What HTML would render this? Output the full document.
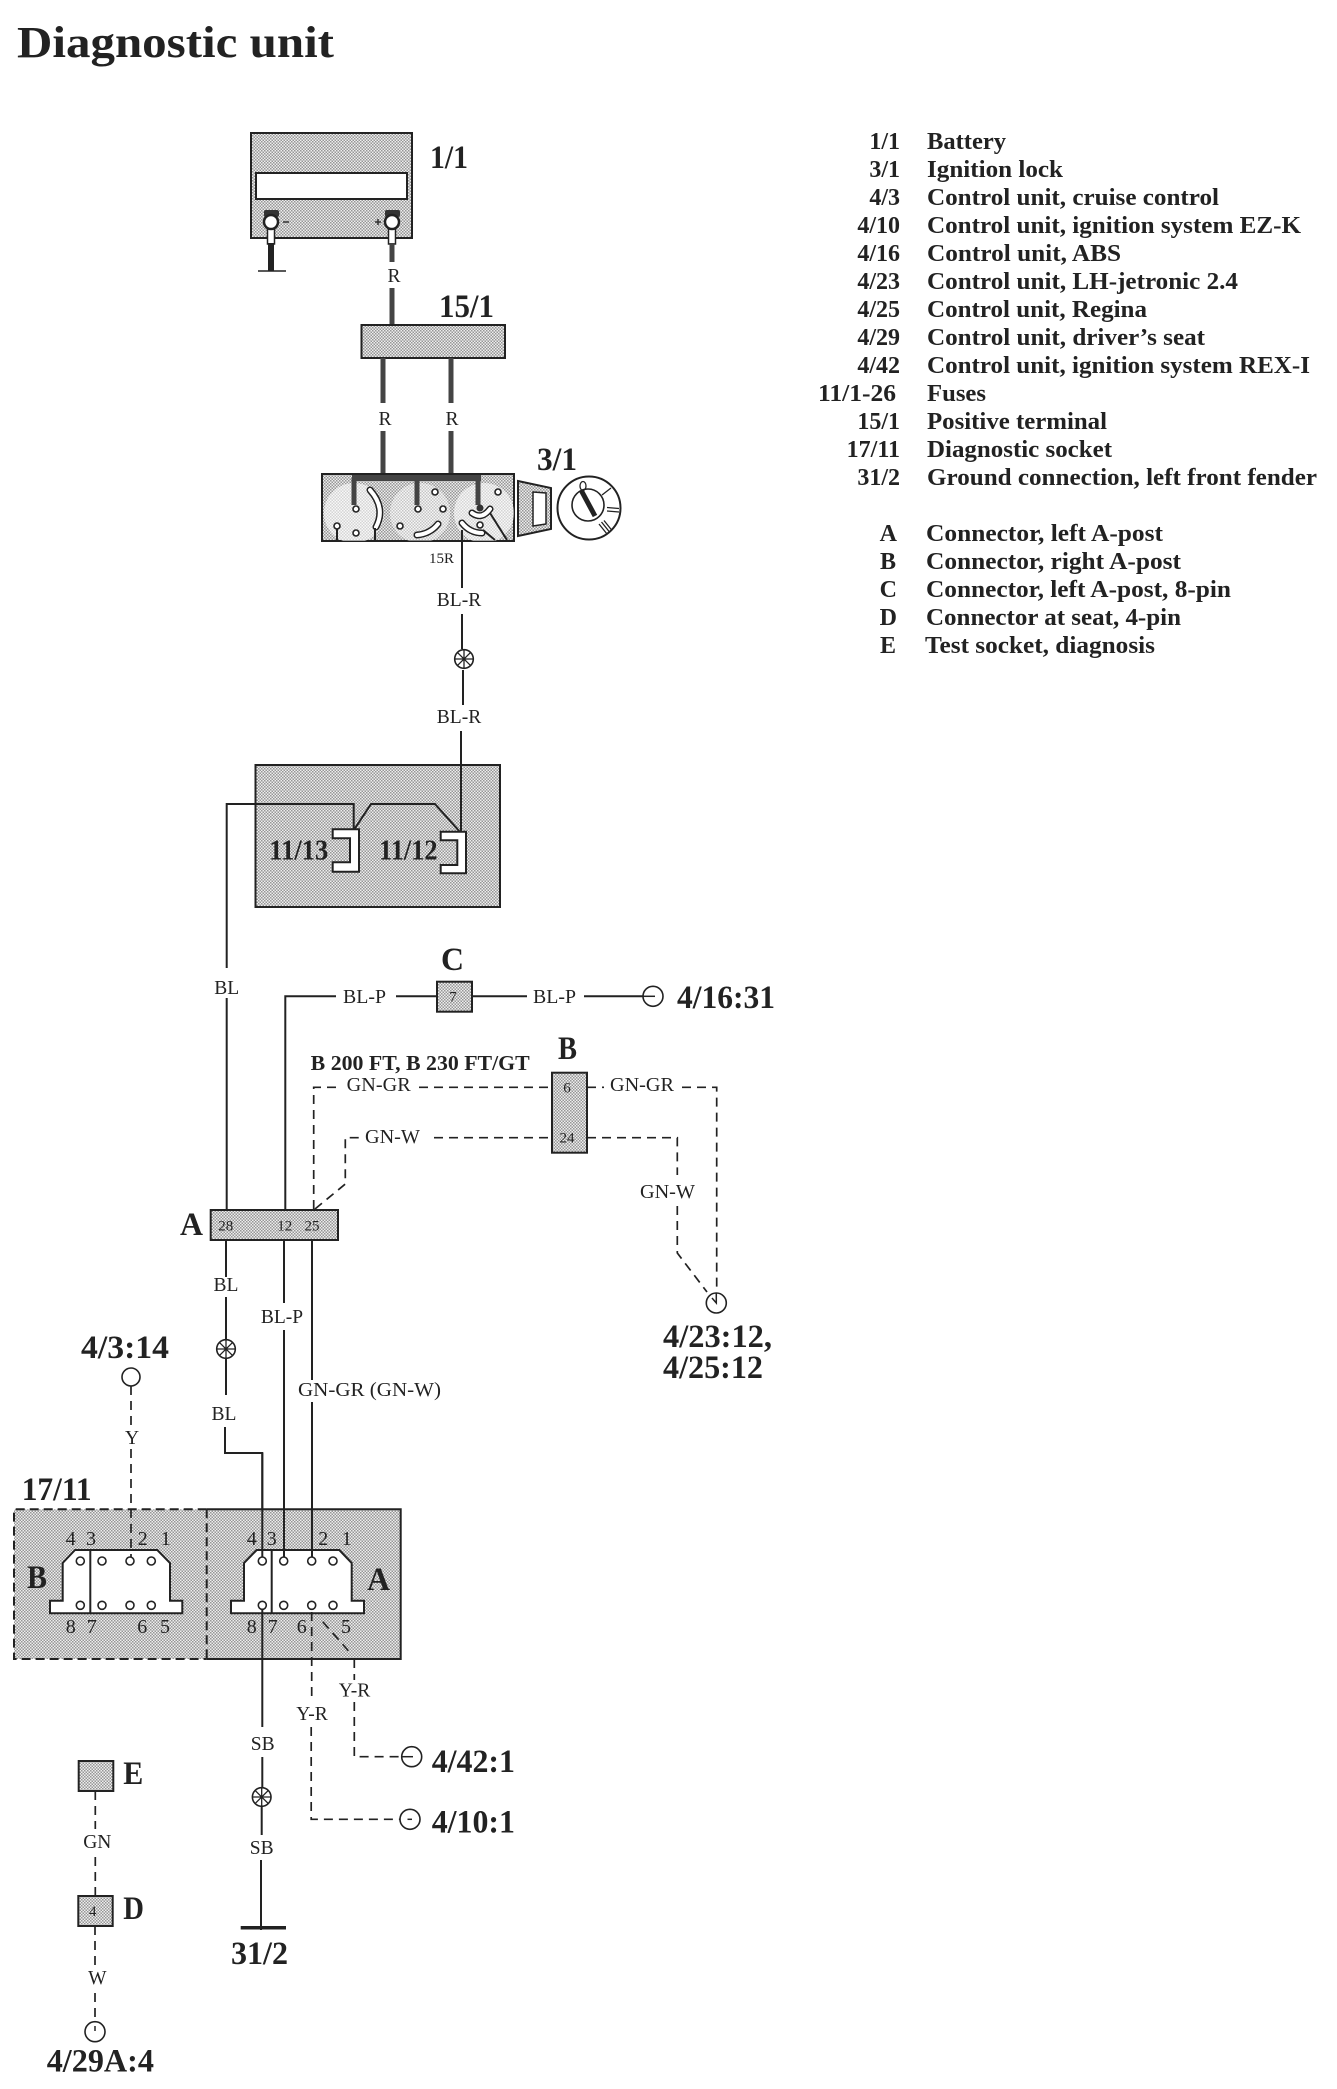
<!DOCTYPE html>
<html><head><meta charset="utf-8"><style>
html,body{margin:0;padding:0;background:#fff}
svg{display:block}
text{font-family:"Liberation Serif",serif;fill:#222}
.b{font-weight:bold;font-size:33px}
.t{font-size:19.5px}
.l{font-weight:bold;font-size:24px}
.n{font-size:20px}
.s{font-size:15px}
.w{fill:none;stroke:#222;stroke-width:2}
.d{fill:none;stroke:#222;stroke-width:1.7;stroke-dasharray:9 6}
.box{fill:url(#st);stroke:#222;stroke-width:2}
.th{fill:none;stroke:#444;stroke-width:5}
.p{fill:#fff;stroke:#222;stroke-width:1.6}
</style></head><body>
<svg width="1337" height="2089" viewBox="0 0 1337 2089" xmlns="http://www.w3.org/2000/svg">
<defs>
<pattern id="st" width="3" height="3" patternUnits="userSpaceOnUse"><rect width="3" height="3" fill="#eeeeee"/><rect x="0" y="0" width="1.5" height="1.5" fill="#969696"/><rect x="1.5" y="1.5" width="1.5" height="1.5" fill="#969696"/></pattern>
<clipPath id="lk"><rect x="322" y="474" width="192" height="67"/></clipPath>
<g id="fuse"><circle r="9.3" fill="#fff" stroke="#222" stroke-width="1.6"/><path d="M0-9.3V9.3M-9.3 0H9.3M-6.6-6.6L6.6 6.6M-6.6 6.6L6.6-6.6" stroke="#222" stroke-width="1.3"/></g>
</defs>
<rect width="1337" height="2089" fill="#fff"/>

<text x="17" y="57" font-weight="bold" font-size="44" textLength="317" lengthAdjust="spacingAndGlyphs">Diagnostic unit</text>

<!-- Legend -->
<g text-anchor="end">
<text class="l" x="900" y="149">1/1</text>
<text class="l" x="900" y="177">3/1</text>
<text class="l" x="900" y="205">4/3</text>
<text class="l" x="900" y="233">4/10</text>
<text class="l" x="900" y="261">4/16</text>
<text class="l" x="900" y="289">4/23</text>
<text class="l" x="900" y="317">4/25</text>
<text class="l" x="900" y="345">4/29</text>
<text class="l" x="900" y="373">4/42</text>
<text class="l" x="896" y="401" textLength="78" lengthAdjust="spacingAndGlyphs">11/1-26</text>
<text class="l" x="900" y="429">15/1</text>
<text class="l" x="900" y="457">17/11</text>
<text class="l" x="900" y="485">31/2</text>
<text class="l" x="897" y="541">A</text>
<text class="l" x="896" y="569">B</text>
<text class="l" x="897" y="597">C</text>
<text class="l" x="897" y="625">D</text>
<text class="l" x="896" y="653">E</text>
</g>
<text class="l" x="927" y="149" textLength="79" lengthAdjust="spacingAndGlyphs">Battery</text>
<text class="l" x="927" y="177" textLength="136" lengthAdjust="spacingAndGlyphs">Ignition lock</text>
<text class="l" x="927" y="205" textLength="292" lengthAdjust="spacingAndGlyphs">Control unit, cruise control</text>
<text class="l" x="927" y="233" textLength="374" lengthAdjust="spacingAndGlyphs">Control unit, ignition system EZ-K</text>
<text class="l" x="927" y="261" textLength="194" lengthAdjust="spacingAndGlyphs">Control unit, ABS</text>
<text class="l" x="927" y="289" textLength="311" lengthAdjust="spacingAndGlyphs">Control unit, LH-jetronic 2.4</text>
<text class="l" x="927" y="317" textLength="220" lengthAdjust="spacingAndGlyphs">Control unit, Regina</text>
<text class="l" x="927" y="345" textLength="278" lengthAdjust="spacingAndGlyphs">Control unit, driver’s seat</text>
<text class="l" x="927" y="373" textLength="383" lengthAdjust="spacingAndGlyphs">Control unit, ignition system REX-I</text>
<text class="l" x="927" y="401" textLength="59" lengthAdjust="spacingAndGlyphs">Fuses</text>
<text class="l" x="927" y="429" textLength="180" lengthAdjust="spacingAndGlyphs">Positive terminal</text>
<text class="l" x="927" y="457" textLength="185" lengthAdjust="spacingAndGlyphs">Diagnostic socket</text>
<text class="l" x="927" y="485" textLength="390" lengthAdjust="spacingAndGlyphs">Ground connection, left front fender</text>
<text class="l" x="926" y="541" textLength="237" lengthAdjust="spacingAndGlyphs">Connector, left A-post</text>
<text class="l" x="926" y="569" textLength="255" lengthAdjust="spacingAndGlyphs">Connector, right A-post</text>
<text class="l" x="926" y="597" textLength="305" lengthAdjust="spacingAndGlyphs">Connector, left A-post, 8-pin</text>
<text class="l" x="926" y="625" textLength="255" lengthAdjust="spacingAndGlyphs">Connector at seat, 4-pin</text>
<text class="l" x="925" y="653" textLength="230" lengthAdjust="spacingAndGlyphs">Test socket, diagnosis</text>

<!-- Battery -->
<rect class="box" x="251" y="133" width="161" height="105"/>
<rect x="256" y="173" width="151" height="26" fill="#fff" stroke="#222" stroke-width="2"/>
<rect x="264" y="210" width="15" height="7" rx="2" fill="#333"/>
<rect x="385" y="210" width="15" height="7" rx="2" fill="#333"/>
<rect x="267.500" y="228" width="7" height="16" fill="#fff" stroke="#222" stroke-width="1.500"/>
<rect x="388.500" y="228" width="7" height="16" fill="#fff" stroke="#222" stroke-width="1.500"/>
<circle cx="271" cy="222" r="7" fill="#fff" stroke="#222" stroke-width="2.500"/>
<circle cx="392" cy="222" r="7" fill="#fff" stroke="#222" stroke-width="2.500"/>
<path d="M283 222h6M375 222h6M378 219v6" stroke="#333" stroke-width="1.500"/>
<path d="M271 243V271" stroke="#222" stroke-width="6"/>
<path d="M258 271H286" stroke="#222" stroke-width="1.500"/>
<path class="th" d="M392 243V262M392 288V325"/>
<text class="t" x="394" y="282" text-anchor="middle">R</text>
<text class="b" x="430" y="168" textLength="38" lengthAdjust="spacingAndGlyphs">1/1</text>

<!-- 15/1 -->
<rect class="box" x="361.500" y="325" width="143.500" height="33"/>
<text class="b" x="439" y="317" textLength="55" lengthAdjust="spacingAndGlyphs">15/1</text>
<path class="th" d="M383 358V403M383 431V476M451 358V403M451 431V476"/>
<text class="t" x="385" y="425" text-anchor="middle">R</text>
<text class="t" x="452" y="425" text-anchor="middle">R</text>

<!-- 3/1 Ignition lock -->
<rect class="box" x="322" y="474" width="192" height="67"/>
<g clip-path="url(#lk)">
<circle cx="354" cy="513" r="30" fill="#fff" opacity=".6"/>
<circle cx="420" cy="513" r="30" fill="#fff" opacity=".45"/>
<circle cx="484" cy="513" r="30" fill="#fff" opacity=".6"/>
<path d="M370 490Q386 508 376 527" fill="none" stroke="#222" stroke-width="7" stroke-linecap="round"/>
<path d="M370 490Q386 508 376 527" fill="none" stroke="#fff" stroke-width="4" stroke-linecap="round"/>
<path d="M417 535Q430 534 438 524" fill="none" stroke="#222" stroke-width="7" stroke-linecap="round"/>
<path d="M417 535Q430 534 438 524" fill="none" stroke="#fff" stroke-width="4" stroke-linecap="round"/>
<path d="M462 523Q470 533 482 533" fill="none" stroke="#222" stroke-width="7" stroke-linecap="round"/>
<path d="M462 523Q470 533 482 533" fill="none" stroke="#fff" stroke-width="4" stroke-linecap="round"/>
<path d="M472 513Q482 520 490 509" fill="none" stroke="#222" stroke-width="7" stroke-linecap="round"/>
<path d="M472 513Q482 520 490 509" fill="none" stroke="#fff" stroke-width="4" stroke-linecap="round"/>
<path class="w" d="M337 527V541M375 528V541M490 513L507 540M483 530L495 540"/>
</g>
<path d="M352 478H481" stroke="#444" stroke-width="6" fill="none"/>
<path d="M354 478V505M417 478V505M478 478V505" stroke="#444" stroke-width="5" fill="none"/>
<g class="p"><circle cx="356" cy="509" r="3"/><circle cx="337" cy="526" r="3"/><circle cx="356" cy="533" r="3"/><circle cx="418" cy="509" r="3"/><circle cx="435" cy="492" r="3"/><circle cx="443" cy="509" r="3"/><circle cx="400" cy="526" r="3"/><circle cx="498" cy="492" r="3"/><circle cx="480" cy="525" r="3"/></g>
<circle cx="480" cy="508" r="3.500" fill="#333"/>
<text class="b" x="537" y="470" textLength="40" lengthAdjust="spacingAndGlyphs">3/1</text>
<path d="M518 481L551 488V529L518 536Z" fill="url(#st)" stroke="#222" stroke-width="2"/>
<path d="M533 492L546 493V524L533 526Z" fill="#fff" stroke="#222" stroke-width="1.500"/>
<circle cx="589" cy="508" r="31.500" fill="#fff" stroke="#222" stroke-width="2"/>
<circle cx="588" cy="505" r="16" fill="#fff" stroke="#222" stroke-width="1.600"/>
<path d="M581 490L595 516" stroke="#222" stroke-width="5"/>
<ellipse cx="583" cy="486" rx="3" ry="4.500" fill="none" stroke="#222" stroke-width="1.300"/>
<path d="M602 495L611 488M607 507.500L619 508.500M607 511L619 512M599 524L607 534M601.500 522L609.500 532M604 520.500L612 530.500" stroke="#222" stroke-width="1.300"/>
<text class="s" x="429" y="563" textLength="25" lengthAdjust="spacingAndGlyphs">15R</text>

<!-- BL-R wire -->
<path class="w" d="M462 530V588M462 614V649M463 670V705"/>
<text class="t" x="459" y="606" text-anchor="middle">BL-R</text>
<use href="#fuse" x="464" y="659"/>
<text class="t" x="459" y="723" text-anchor="middle">BL-R</text>

<!-- Fuse box -->
<rect class="box" x="255.500" y="765" width="244.500" height="142"/>
<path class="w" d="M226.700 968V804H353.700V829M355 828.300L371 804H435L460 832"/>
<path class="w" d="M461 731V832"/>
<path d="M332.700 829.300H359V871.700H332.700V862.300H350V838.300H332.700Z" fill="#fff" stroke="#222" stroke-width="2"/>
<path d="M440.700 831.700H466V873.300H440.700V865H457.300V840.300H440.700Z" fill="#fff" stroke="#222" stroke-width="2"/>
<text class="b" x="269.300" y="859.300" style="font-size:29px" textLength="59" lengthAdjust="spacingAndGlyphs">11/13</text>
<text class="b" x="379" y="859.300" style="font-size:29px" textLength="58.500" lengthAdjust="spacingAndGlyphs">11/12</text>

<!-- BL -->
<path class="w" d="M226.700 998V1211M226 1240V1277M226 1297V1340M226 1358V1395M225 1427V1453H262.300V1561"/>
<text class="t" x="226.700" y="994" text-anchor="middle">BL</text>
<text class="t" x="226" y="1291" text-anchor="middle">BL</text>
<use href="#fuse" x="226" y="1349"/>
<text class="t" x="224" y="1420" text-anchor="middle">BL</text>

<!-- C line -->
<path class="w" d="M285.300 1211V996.300H336M396 996.300H437M472 996.300H527M584 996.300H643"/>
<rect class="box" x="437" y="981.700" width="35" height="30"/>
<text class="s" x="453" y="1001.500" text-anchor="middle">7</text>
<text class="n" x="343" y="1003" textLength="43" lengthAdjust="spacingAndGlyphs">BL-P</text>
<text class="n" x="533" y="1003" textLength="43" lengthAdjust="spacingAndGlyphs">BL-P</text>
<text class="b" x="441" y="970" textLength="23" lengthAdjust="spacingAndGlyphs">C</text>
<circle cx="653" cy="996.300" r="10" fill="#fff" stroke="#222" stroke-width="1.600"/>
<path d="M643 996.300H655" stroke="#222" stroke-width="1.500"/>
<text class="b" x="677" y="1008" textLength="98" lengthAdjust="spacingAndGlyphs">4/16:31</text>

<!-- B connector -->
<text x="310.700" y="1070" font-weight="bold" font-size="21" textLength="219" lengthAdjust="spacingAndGlyphs">B 200 FT, B 230 FT/GT</text>
<text class="b" x="558" y="1059" textLength="19" lengthAdjust="spacingAndGlyphs">B</text>
<path class="d" d="M313.700 1209V1087.300H342M419 1087.300H552M587 1087.300H604M682 1087.300H716.700V1287"/>
<path class="d" d="M315 1209L345.300 1184V1137.700H361M434 1137.700H552M587 1137.700H677.300V1175M677.300 1206V1253L707 1292"/>
<rect class="box" x="552" y="1072.700" width="35" height="80"/>
<text class="s" x="567" y="1092.700" text-anchor="middle">6</text>
<text class="s" x="567" y="1142.500" text-anchor="middle">24</text>
<text class="n" x="346.700" y="1091" textLength="64" lengthAdjust="spacingAndGlyphs">GN-GR</text>
<text class="n" x="610" y="1091" textLength="64" lengthAdjust="spacingAndGlyphs">GN-GR</text>
<text class="n" x="365" y="1143" textLength="55" lengthAdjust="spacingAndGlyphs">GN-W</text>
<text class="n" x="640" y="1198" textLength="55" lengthAdjust="spacingAndGlyphs">GN-W</text>
<circle cx="716.300" cy="1303" r="10" fill="#fff" stroke="#222" stroke-width="1.600"/>
<path d="M716.300 1293V1303L712 1298" fill="none" stroke="#222" stroke-width="1.500"/>
<text class="b" x="663" y="1347" textLength="109" lengthAdjust="spacingAndGlyphs">4/23:12,</text>
<text class="b" x="663" y="1378" textLength="100" lengthAdjust="spacingAndGlyphs">4/25:12</text>

<!-- A connector -->
<rect class="box" x="210.700" y="1210" width="127.300" height="30"/>
<text class="s" x="225.700" y="1230.500" text-anchor="middle">28</text>
<text class="s" x="284.700" y="1230.500" text-anchor="middle">12</text>
<text class="s" x="312" y="1230.500" text-anchor="middle">25</text>
<text class="b" x="180" y="1235" textLength="23" lengthAdjust="spacingAndGlyphs">A</text>

<text class="t" x="282" y="1323" text-anchor="middle">BL-P</text>
<text class="n" x="298" y="1396" textLength="143" lengthAdjust="spacingAndGlyphs">GN-GR (GN-W)</text>

<!-- 4/3:14 -->
<text class="b" x="81" y="1358" textLength="88" lengthAdjust="spacingAndGlyphs">4/3:14</text>
<circle cx="131" cy="1377" r="9" fill="#fff" stroke="#222" stroke-width="1.600"/>
<text class="t" x="132" y="1444" text-anchor="middle">Y</text>

<!-- 17/11 -->
<text class="b" x="21.700" y="1500" textLength="70" lengthAdjust="spacingAndGlyphs">17/11</text>
<rect x="14" y="1509.300" width="192.700" height="149.700" fill="url(#st)"/>
<rect x="206.700" y="1509.300" width="194" height="149.700" fill="url(#st)"/>
<path d="M206.700 1509.300H14V1659H206.700" fill="none" stroke="#222" stroke-width="2" stroke-dasharray="9 5"/>
<path d="M206.700 1509.300H400.700V1659H206.700" fill="none" stroke="#222" stroke-width="2"/>
<path d="M206.700 1509.300V1659" fill="none" stroke="#222" stroke-width="2" stroke-dasharray="9 5"/>
<path d="M75 1550H157.300L170 1563V1600.700H182.300V1613.300H50V1600.700H62.700V1563Z" fill="#fff" stroke="#222" stroke-width="2"/>
<path d="M256.700 1550H339.300L351.700 1563V1600.700H364V1613.300H231V1600.700H244V1563Z" fill="#fff" stroke="#222" stroke-width="2"/>
<path class="w" d="M90.300 1550V1613.300M271.700 1550V1613.300"/>
<path class="d" d="M131 1386V1428M131 1449V1561"/>
<path class="w" d="M262.300 1453V1561M284 1240V1303M284 1330V1561M312 1240V1380M312 1402V1561"/>
<g class="p">
<circle cx="80.300" cy="1561" r="4"/><circle cx="102" cy="1561" r="4"/><circle cx="130" cy="1561" r="4"/><circle cx="151.300" cy="1561" r="4"/>
<circle cx="80.300" cy="1605.300" r="4"/><circle cx="102" cy="1605.300" r="4"/><circle cx="130" cy="1605.300" r="4"/><circle cx="151.300" cy="1605.300" r="4"/>
<circle cx="262.300" cy="1561" r="4"/><circle cx="283.700" cy="1561" r="4"/><circle cx="311.700" cy="1561" r="4"/><circle cx="333" cy="1561" r="4"/>
<circle cx="262.300" cy="1605.300" r="4"/><circle cx="283.700" cy="1605.300" r="4"/><circle cx="311.700" cy="1605.300" r="4"/><circle cx="333" cy="1605.300" r="4"/>
</g>
<g font-size="20" text-anchor="middle">
<text x="70.700" y="1545">4</text><text x="91" y="1545">3</text><text x="142.700" y="1545">2</text><text x="165.700" y="1545">1</text>
<text x="70.700" y="1633">8</text><text x="91.700" y="1633">7</text><text x="142.300" y="1633">6</text><text x="165" y="1633">5</text>
<text x="251.700" y="1545">4</text><text x="271.700" y="1545">3</text><text x="323.300" y="1545">2</text><text x="346.700" y="1545">1</text>
<text x="251.700" y="1633">8</text><text x="272.700" y="1633">7</text><text x="301.700" y="1633">6</text><text x="346" y="1633">5</text>
</g>
<text class="b" x="27" y="1588" textLength="20" lengthAdjust="spacingAndGlyphs">B</text>
<text class="b" x="367" y="1590" textLength="23" lengthAdjust="spacingAndGlyphs">A</text>

<!-- bottom wires -->
<path class="w" d="M262.300 1609V1727M262.300 1757V1788M261.700 1806V1835M261 1860V1930"/>
<text class="t" x="262.700" y="1750" text-anchor="middle">SB</text>
<use href="#fuse" x="261.700" y="1797"/>
<text class="t" x="261.700" y="1854" text-anchor="middle">SB</text>
<path d="M240.700 1927.700H286" stroke="#222" stroke-width="3.500"/>
<text class="b" x="231" y="1964" textLength="57" lengthAdjust="spacingAndGlyphs">31/2</text>

<path class="d" d="M311.700 1612V1702M311.200 1727V1819.300H400"/>
<text class="t" x="312" y="1720" text-anchor="middle">Y-R</text>
<path class="d" d="M322.700 1621.700L348.300 1650.700"/>
<path class="d" d="M354.300 1659V1680M354.300 1702V1756.700H401.700"/>
<text class="t" x="354.500" y="1696.700" text-anchor="middle">Y-R</text>
<circle cx="411.700" cy="1756.700" r="10" fill="#fff" stroke="#222" stroke-width="1.600"/>
<path d="M401.700 1756.700H413" stroke="#222" stroke-width="1.500"/>
<circle cx="410" cy="1819.300" r="10" fill="#fff" stroke="#222" stroke-width="1.600"/>
<path d="M407.500 1819.300H412" stroke="#222" stroke-width="1.500"/>
<text class="b" x="431.700" y="1772" textLength="83.300" lengthAdjust="spacingAndGlyphs">4/42:1</text>
<text class="b" x="431.700" y="1832.300" textLength="83.300" lengthAdjust="spacingAndGlyphs">4/10:1</text>

<!-- E D -->
<rect class="box" x="78.700" y="1761" width="34.600" height="30"/>
<text class="b" x="123.300" y="1784" textLength="20" lengthAdjust="spacingAndGlyphs">E</text>
<path class="d" d="M95.300 1791V1829M95.300 1857V1896M95 1926V1967M95 1993V2022"/>
<text class="t" x="97.300" y="1848" text-anchor="middle">GN</text>
<rect class="box" x="78.300" y="1896" width="34.400" height="30"/>
<text class="s" x="92.700" y="1916" text-anchor="middle">4</text>
<text class="b" x="123.300" y="1919" textLength="20.700" lengthAdjust="spacingAndGlyphs">D</text>
<text class="t" x="97.300" y="1984" text-anchor="middle">W</text>
<circle cx="95" cy="2031.700" r="10" fill="none" stroke="#222" stroke-width="1.600"/>
<path d="M95 2026V2031" stroke="#222" stroke-width="1.500"/>
<text class="b" x="46.700" y="2071.700" textLength="107.300" lengthAdjust="spacingAndGlyphs">4/29A:4</text>
</svg>
</body></html>
